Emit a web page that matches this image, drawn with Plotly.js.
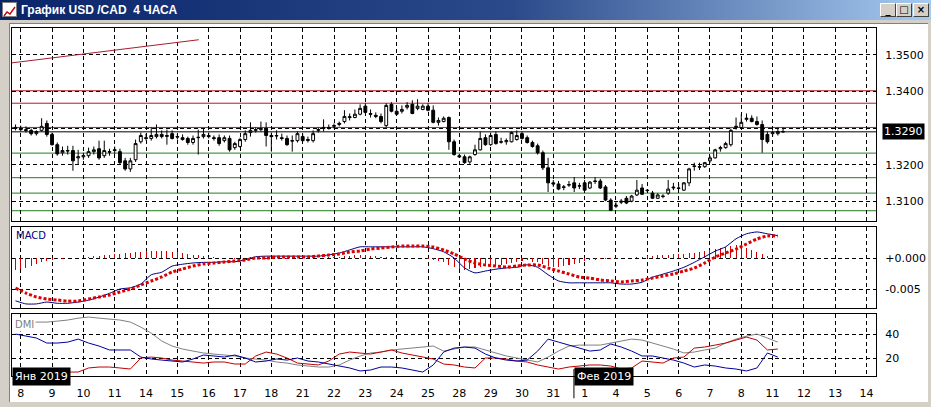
<!DOCTYPE html>
<html>
<head>
<meta charset="utf-8">
<script src="https://cdn.plot.ly/plotly-3.0.1.min.js"></script>
<style>
body{margin:0;width:931px;height:407px;overflow:hidden;background:#d4d0c8;position:relative;font-family:'DejaVu Sans',sans-serif}
#tb{position:absolute;left:0;top:0;width:931px;height:20px;background:linear-gradient(to right,#0a246a 0%,#2a4a8a 55%,#a6caf0 100%)}
#tt{position:absolute;left:21px;top:3px;color:#fff;font:bold 12px 'Liberation Sans',sans-serif;white-space:pre}
#ic{position:absolute;left:2px;top:2px;width:15px;height:15px;background:#fff;border:1px solid #808080;box-sizing:border-box}
.bt{position:absolute;top:3px;width:16px;height:14px;background:#d4d0c8;border:1px solid;border-color:#fff #404040 #404040 #fff;box-sizing:border-box;font:bold 10px 'DejaVu Sans';color:#000;text-align:center;line-height:11px}
#inner{position:absolute;left:9px;top:23px;width:919px;height:379px;background:#fff;border-left:1px solid #808080;border-top:1px solid #808080;box-sizing:border-box}
#chart{position:absolute;left:0;top:0;width:931px;height:407px}
</style>
</head>
<body>
<div id="tb"><div id="ic"><svg width="13" height="13"><polyline points="1,11 4,7 7,9 12,2" fill="none" stroke="#c00000" stroke-width="1.3"/></svg></div><span id="tt">График USD /CAD  4 ЧАСА</span>
<div class="bt" style="left:880px">_</div><div class="bt" style="left:896px">□</div><div class="bt" style="left:913px">×</div></div>
<div id="inner"></div>
<div id="chart"></div>
<script>
// ---- candle data (4-hour bars, USD/CAD) ----
const openP = [1.3302,1.3299,1.3296,1.3294,1.3285,1.3294,1.3313,1.3283,1.3255,1.3233,
1.3239,1.3239,1.3219,1.3222,1.3225,1.3236,1.3244,1.3225,1.3236,1.3239,
1.3236,1.3211,1.3189,1.3214,1.3263,1.3274,1.3272,1.3277,1.3283,1.3280,
1.3285,1.3277,1.3274,1.3272,1.3261,1.3274,1.3277,1.3280,1.3274,1.3274,
1.3266,1.3272,1.3247,1.3250,1.3269,1.3288,1.3294,1.3296,1.3299,1.3280,
1.3280,1.3274,1.3272,1.3266,1.3266,1.3277,1.3269,1.3266,1.3294,1.3299,
1.3302,1.3305,1.3310,1.3318,1.3329,1.3329,1.3338,1.3360,1.3340,1.3335,
1.3332,1.3307,1.3365,1.3346,1.3346,1.3357,1.3365,1.3354,1.3351,1.3360,
1.3349,1.3316,1.3318,1.3329,1.3263,1.3225,1.3222,1.3208,1.3228,1.3241,
1.3274,1.3255,1.3283,1.3263,1.3263,1.3263,1.3269,1.3285,1.3274,1.3261,
1.3252,1.3233,1.3192,1.3151,1.3148,1.3140,1.3145,1.3151,1.3142,1.3151,
1.3137,1.3156,1.3156,1.3140,1.3104,1.3087,1.3098,1.3109,1.3101,1.3118,
1.3137,1.3131,1.3123,1.3109,1.3115,1.3123,1.3137,1.3137,1.3131,1.3151,
1.3197,1.3195,1.3195,1.3211,1.3219,1.3244,1.3247,1.3255,1.3302,1.3302,
1.3324,1.3327,1.3318,1.3310,1.3283,1.3285,1.3285,1.3291];
const highP = [1.3310,1.3307,1.3305,1.3299,1.3294,1.3327,1.3321,1.3288,1.3261,1.3250,
1.3252,1.3252,1.3241,1.3233,1.3247,1.3250,1.3266,1.3266,1.3244,1.3250,
1.3244,1.3219,1.3219,1.3269,1.3288,1.3285,1.3302,1.3310,1.3294,1.3296,
1.3294,1.3285,1.3283,1.3277,1.3280,1.3296,1.3299,1.3288,1.3280,1.3283,
1.3280,1.3280,1.3263,1.3274,1.3294,1.3316,1.3302,1.3318,1.3316,1.3288,
1.3294,1.3285,1.3280,1.3280,1.3291,1.3285,1.3277,1.3294,1.3302,1.3324,
1.3310,1.3313,1.3318,1.3349,1.3340,1.3351,1.3365,1.3368,1.3351,1.3343,
1.3340,1.3368,1.3371,1.3357,1.3362,1.3371,1.3376,1.3379,1.3365,1.3368,
1.3362,1.3329,1.3332,1.3332,1.3269,1.3230,1.3228,1.3225,1.3255,1.3291,
1.3283,1.3288,1.3291,1.3274,1.3272,1.3291,1.3294,1.3291,1.3280,1.3266,
1.3258,1.3239,1.3219,1.3159,1.3156,1.3145,1.3156,1.3167,1.3151,1.3159,
1.3156,1.3167,1.3162,1.3145,1.3109,1.3098,1.3107,1.3115,1.3118,1.3159,
1.3148,1.3134,1.3129,1.3123,1.3120,1.3159,1.3151,1.3148,1.3153,1.3192,
1.3206,1.3206,1.3208,1.3225,1.3244,1.3252,1.3263,1.3299,1.3329,1.3338,
1.3340,1.3335,1.3332,1.3321,1.3291,1.3294,1.3302,1.3302];
const lowP = [1.3294,1.3291,1.3288,1.3280,1.3280,1.3291,1.3277,1.3252,1.3225,1.3225,
1.3228,1.3184,1.3200,1.3214,1.3219,1.3228,1.3214,1.3219,1.3225,1.3230,
1.3200,1.3184,1.3181,1.3208,1.3258,1.3266,1.3266,1.3272,1.3272,1.3255,
1.3269,1.3269,1.3266,1.3255,1.3255,1.3228,1.3272,1.3272,1.3266,1.3252,
1.3261,1.3236,1.3241,1.3247,1.3263,1.3277,1.3288,1.3291,1.3250,1.3236,
1.3269,1.3266,1.3252,1.3236,1.3261,1.3263,1.3261,1.3261,1.3288,1.3291,
1.3296,1.3299,1.3305,1.3313,1.3321,1.3327,1.3335,1.3340,1.3329,1.3327,
1.3313,1.3302,1.3343,1.3335,1.3340,1.3351,1.3338,1.3349,1.3349,1.3346,
1.3313,1.3307,1.3316,1.3241,1.3225,1.3219,1.3203,1.3203,1.3225,1.3239,
1.3252,1.3252,1.3255,1.3258,1.3255,1.3261,1.3266,1.3269,1.3258,1.3247,
1.3228,1.3186,1.3126,1.3140,1.3131,1.3131,1.3140,1.3126,1.3134,1.3129,
1.3134,1.3148,1.3134,1.3101,1.3074,1.3082,1.3093,1.3093,1.3098,1.3115,
1.3118,1.3126,1.3107,1.3107,1.3109,1.3118,1.3131,1.3131,1.3129,1.3142,
1.3184,1.3186,1.3192,1.3206,1.3217,1.3236,1.3244,1.3250,1.3296,1.3299,
1.3318,1.3316,1.3307,1.3233,1.3258,1.3277,1.3280,1.3288];
const closeP = [1.3299,1.3296,1.3294,1.3285,1.3291,1.3305,1.3283,1.3255,1.3230,1.3239,
1.3238,1.3211,1.3222,1.3225,1.3236,1.3241,1.3219,1.3239,1.3235,1.3241,
1.3206,1.3189,1.3211,1.3258,1.3280,1.3272,1.3280,1.3283,1.3277,1.3278,
1.3272,1.3276,1.3269,1.3261,1.3272,1.3275,1.3283,1.3277,1.3272,1.3258,
1.3274,1.3241,1.3258,1.3269,1.3285,1.3294,1.3296,1.3299,1.3280,1.3277,
1.3279,1.3272,1.3255,1.3265,1.3285,1.3266,1.3267,1.3285,1.3296,1.3302,
1.3301,1.3307,1.3313,1.3332,1.3331,1.3338,1.3354,1.3343,1.3338,1.3332,
1.3318,1.3362,1.3346,1.3338,1.3351,1.3362,1.3340,1.3360,1.3360,1.3349,
1.3316,1.3321,1.3327,1.3263,1.3228,1.3222,1.3206,1.3222,1.3241,1.3272,
1.3255,1.3280,1.3258,1.3262,1.3266,1.3288,1.3280,1.3272,1.3261,1.3250,
1.3233,1.3192,1.3151,1.3148,1.3134,1.3139,1.3146,1.3137,1.3143,1.3131,
1.3153,1.3155,1.3137,1.3104,1.3076,1.3090,1.3101,1.3096,1.3115,1.3131,
1.3120,1.3130,1.3109,1.3118,1.3114,1.3134,1.3139,1.3136,1.3151,1.3189,
1.3196,1.3194,1.3206,1.3219,1.3241,1.3247,1.3258,1.3294,1.3305,1.3316,
1.3327,1.3318,1.3310,1.3269,1.3263,1.3288,1.3291,1.3290];

// ---- MACD (sampled every 2 bars) ----
const macdLine = [-0.0069,-0.0074,-0.0074,-0.0071,-0.0073,-0.0073,-0.0071,-0.0068,-0.0063,-0.0057,
-0.0050,-0.0048,-0.0042,-0.0027,-0.0023,-0.0013,-0.0010,-0.0008,-0.0007,-0.0007,
-0.0006,-0.0006,-0.0003,0.0002,0.0003,0.0003,0.0003,0.0003,0.0003,0.0003,
0.0005,0.0008,0.0013,0.0018,0.0018,0.0018,0.0018,0.0018,0.0018,0.0018,
0.0015,0.0010,0.0000,-0.0016,-0.0024,-0.0021,-0.0018,-0.0016,-0.0015,-0.0011,
-0.0015,-0.0027,-0.0037,-0.0040,-0.0040,-0.0040,-0.0040,-0.0040,-0.0042,-0.0042,
-0.0039,-0.0031,-0.0026,-0.0021,-0.0015,-0.0007,0.0002,0.0011,0.0018,0.0031,
0.0039,0.0042,0.0039,0.0036];
const macdSignal = [-0.00484,-0.00565,-0.00629,-0.00661,-0.00677,-0.00694,-0.00694,-0.00661,-0.00629,-0.00597,
-0.00548,-0.0050,-0.00435,-0.00371,-0.00306,-0.00226,-0.00177,-0.00129,-0.00097,-0.00081,
-0.00065,-0.00048,-0.00032,0.0,0.0,0.00016,0.00016,0.00016,0.00016,0.00032,
0.00048,0.00065,0.00097,0.00113,0.00145,0.00161,0.00177,0.00194,0.00194,0.00194,
0.00177,0.00129,0.00065,-0.00016,-0.00081,-0.00113,-0.00129,-0.00145,-0.00129,-0.00113,
-0.00113,-0.00161,-0.0021,-0.00258,-0.00306,-0.00323,-0.00355,-0.00371,-0.00387,-0.00371,
-0.00355,-0.00323,-0.0029,-0.00258,-0.0021,-0.00161,-0.00081,0.00016,0.00081,0.00145,
0.00226,0.00306,0.00355,0.00355];
const macdHist = [-0.00194,-0.00177,-0.00161,-0.00129,-0.00097,-0.00065,-0.00048,-0.00032,-0.00016,-0.00016,
0,0,0,0,0.00016,0.00032,0.00032,0.00048,0.00048,0.00065,
0.00065,0.00081,0.00081,0.00097,0.00097,0.00113,0.00113,0.00113,0.00113,0.00113,
0.00097,0.00097,0.00081,0.00065,0.00048,0.00048,0.00032,0.00016,0.00016,0,
0,0,-0.00016,0,0,0.00016,0,0,-0.00016,0,
0,0,-0.00016,0,0,0,0,0,0,0,
0.00016,0.00016,0.00016,0.00032,0.00032,0.00048,0.00048,0.00048,0.00032,0.00032,
0.00016,0.00016,0.00016,0.00016,0,0,0,0,0,-0.00016,
-0.00032,-0.00048,-0.00065,-0.00113,-0.00145,-0.00177,-0.00194,-0.00177,-0.00161,-0.00145,
-0.00129,-0.00129,-0.00113,-0.00113,-0.00097,-0.00081,-0.00065,-0.00048,-0.00032,-0.00065,
-0.00065,-0.00097,-0.00129,-0.00145,-0.00145,-0.00129,-0.00113,-0.00097,-0.00081,-0.00048,
-0.00032,-0.00032,-0.00016,-0.00016,-0.00016,-0.00016,0,0,0,0.00016,
0.00016,0.00032,0.00032,0.00048,0.00048,0.00048,0.00065,0.00065,0.00065,0.00081,
0.00081,0.00097,0.00113,0.00129,0.00145,0.00161,0.00177,0.00194,0.0021,0.00194,
0.00161,0.00129,0.00097,0.00065,0.00032,0.00016,0,0];

// ---- DMI (sampled every 2 bars) ----
const adx = [44.2,47.5,50,50,50.8,51.7,53.3,54.2,53.3,52.5,
51.7,50,45.8,40.8,34.2,30,27.5,25.8,24.2,23.3,
22.5,21.7,20,19.2,18.3,16.7,15.8,14.2,13.3,12.5,
12.5,14.2,18.3,21.7,24.2,25,26.7,27.5,28.3,29.2,
30,25.8,27.5,29.2,29.2,26.7,24.2,21.7,20,18.3,
16.7,20.8,25.8,30,30.8,30.8,30.8,32.5,34.2,35.8,
35,32.5,30,27.5,24.2,25,26.7,28.3,32.5,35.8,
38.3,40,36.7,33.3];
const diBlue = [40,38.3,36.7,32.5,32.5,33.3,35.8,32.5,30,26.7,
26.7,26.7,20.8,19.2,18.3,17.5,16.7,19.2,22.5,21.7,
20.8,22.5,20,16.7,17.5,19.2,18.3,20,17.5,16.7,
15,13.3,11.7,9.2,10,12.5,12.5,11.7,10,8.3,
14.2,25,28.3,29.2,28.3,23.3,20,18.3,17.5,18.3,
25.8,35.8,33.3,30.8,28.3,25.8,26.7,31.7,29.2,25.8,
21.7,21.7,20,18.3,15.8,12.5,14.2,13.3,11.7,10.8,
9.2,11.7,24.2,20.8];
const diRed = [8.3,10,10,10.8,10,8.3,8.3,11.7,12.5,12.5,
11.7,10.8,20,20.8,20,18.3,17.5,16.7,15.8,16.7,
16.7,15,15,21.7,25,23.3,20,15.8,15,14.2,
17.5,23.3,25,24.2,23.3,25,26.7,24.2,22.5,20.8,
19.2,15,14.2,12.5,11.7,20,20,19.2,17.5,16.7,
14.2,12.5,10.8,12.5,13.3,14.2,14.2,13.3,10.8,11.7,
17.5,16.7,15.8,20,20.8,28.3,29.2,30.8,32.5,35,
37.5,35,26.7,27.5];

// ---- levels & labels ----
const resistLevels = [1.3402, 1.3368, 1.3302];
const supportLevels = [1.3232, 1.3165, 1.3123, 1.3075];
const lastPrice = 1.3290;
const trendBars = [-0.67, 35.1];
const trendPrices = [1.3478, 1.3541];
const dayLabels = ['8','9','10','11','14','15','16','17','18','21','22','23','24','25','28','29','30','31','1','4','5','6','7','8','11','12','13','14'];
const barsPerDay = 6;
const monthLabels = ['Янв 2019','Фев 2019'];
const febStartBar = 107;

const barIdx = openP.map((_, i) => i);
const sampIdx = macdLine.map((_, i) => i * 2);
const dayTicks = dayLabels.map((_, k) => 1 + barsPerDay * k);

const FONT = 'DejaVu Sans, sans-serif';
const GD = '4px,3px';
const xr = [-0.67, 164.8];

function xax(anchor, labels) {
  return {anchor: anchor, range: xr, domain: [0, 1], tickvals: dayTicks,
    ticktext: dayLabels, showticklabels: labels, ticks: '',
    showgrid: true, gridcolor: '#000', griddash: GD, gridwidth: 1,
    showline: true, mirror: true, linecolor: '#000', linewidth: 1, zeroline: false,
    tickfont: {family: FONT, size: 11, color: '#000'}, ticklabelstandoff: 7,
    rangeslider: {visible: false}, fixedrange: true};
}
function yax(anchor, dom, rng, tv, tt) {
  return {anchor: anchor, domain: dom, range: rng, side: 'right', tickvals: tv, ticktext: tt,
    ticks: '', showgrid: true, gridcolor: '#000', griddash: GD, gridwidth: 1,
    showline: true, mirror: true, linecolor: '#000', linewidth: 1, zeroline: false,
    tickfont: {family: FONT, size: 11, color: '#000'}, ticklabelstandoff: 6, fixedrange: true};
}

const traces = [
  {type: 'candlestick', x: barIdx, open: openP, high: highP, low: lowP, close: closeP,
   xaxis: 'x', yaxis: 'y', whiskerwidth: 0,
   increasing: {line: {color: '#000', width: 1}, fillcolor: '#fff'},
   decreasing: {line: {color: '#000', width: 1}, fillcolor: '#000'}, hoverinfo: 'skip'},
  {type: 'scatter', mode: 'lines', x: trendBars, y: trendPrices, xaxis: 'x', yaxis: 'y',
   line: {color: '#a81c2c', width: 1}},
  {type: 'bar', x: barIdx, y: macdHist, xaxis: 'x2', yaxis: 'y2', width: 0.2,
   marker: {color: '#d00000', line: {width: 0}}},
  {type: 'scatter', mode: 'lines', x: sampIdx, y: macdLine, xaxis: 'x2', yaxis: 'y2',
   line: {color: '#000080', width: 1, shape: 'spline', smoothing: 0.6}},
  {type: 'scatter', mode: 'lines', x: sampIdx, y: macdSignal, xaxis: 'x2', yaxis: 'y2',
   line: {color: '#dd0000', width: 3, dash: '3px,2px', shape: 'spline', smoothing: 0.6}},
  {type: 'scatter', mode: 'lines', x: sampIdx, y: adx, xaxis: 'x3', yaxis: 'y3',
   line: {color: '#808080', width: 1}},
  {type: 'scatter', mode: 'lines', x: sampIdx, y: diRed, xaxis: 'x3', yaxis: 'y3',
   line: {color: '#c00000', width: 1}},
  {type: 'scatter', mode: 'lines', x: sampIdx, y: diBlue, xaxis: 'x3', yaxis: 'y3',
   line: {color: '#0000a0', width: 1}}
];

const shapes = [];
resistLevels.forEach(v => shapes.push({type: 'line', xref: 'paper', yref: 'y', x0: 0, x1: 1, y0: v, y1: v, layer: 'below', line: {color: '#b01c30', width: 1}}));
supportLevels.forEach(v => shapes.push({type: 'line', xref: 'paper', yref: 'y', x0: 0, x1: 1, y0: v, y1: v, layer: 'below', line: {color: '#1f7f1f', width: 1}}));
shapes.push({type: 'line', xref: 'paper', yref: 'y', x0: 0, x1: 1, y0: lastPrice, y1: lastPrice, layer: 'below', line: {color: '#000', width: 1}});
shapes.push({type: 'line', xref: 'x3', yref: 'paper', x0: febStartBar - 0.05, x1: febStartBar - 0.05, y0: -0.064, y1: 0.02, line: {color: '#000', width: 1}});

const annotations = [
  {xref: 'paper', yref: 'y', x: 1, xshift: 6, xanchor: 'left', y: lastPrice, text: lastPrice.toFixed(4),
   showarrow: false, bgcolor: '#000', font: {family: FONT, size: 11, color: '#fff'}, borderpad: 1},
  {xref: 'paper', yref: 'paper', x: 0, xanchor: 'left', y: 0, yanchor: 'middle', text: monthLabels[0],
   showarrow: false, bgcolor: '#000', font: {family: FONT, size: 11, color: '#fff'}, borderpad: 2},
  {xref: 'x3', yref: 'paper', x: febStartBar, xanchor: 'left', y: 0, yanchor: 'middle', text: monthLabels[1],
   showarrow: false, bgcolor: '#000', font: {family: FONT, size: 11, color: '#fff'}, borderpad: 2},
  {xref: 'paper', yref: 'paper', x: 0, xshift: 2, xanchor: 'left', y: 0.4282, yshift: -1, yanchor: 'top', text: 'MACD',
   showarrow: false, font: {family: FONT, size: 10, color: '#000080'}},
  {xref: 'paper', yref: 'paper', x: 0, xshift: 1, xanchor: 'left', y: 0.178, yshift: -3, yanchor: 'top', text: 'DMI',
   showarrow: false, font: {family: FONT, size: 10, color: '#808080'}, bgcolor: '#fff'}
];

const layout = {
  width: 931, height: 407, margin: {l: 12, r: 55, t: 28, b: 31},
  paper_bgcolor: 'rgba(0,0,0,0)', plot_bgcolor: '#fff', showlegend: false, hovermode: false,
  bargap: 0, boxgap: 0.22,
  xaxis: xax('y', false), xaxis2: xax('y2', false), xaxis3: xax('y3', true),
  yaxis: yax('x', [0.4454, 1], [1.3047, 1.3573], [1.31, 1.32, 1.33, 1.34, 1.35], ['1.3100', '1.3200', '', '1.3400', '1.3500']),
  yaxis2: yax('x2', [0.1954, 0.4282], [-0.00806, 0.0050], [-0.005, 0], ['-0.005', '+0.000']),
  yaxis3: yax('x3', [0, 0.178], [5, 56.7], [20, 40], ['20', '40']),
  shapes: shapes, annotations: annotations
};

Plotly.newPlot('chart', traces, layout, {staticPlot: true, displayModeBar: false});
</script>
</body>
</html>
